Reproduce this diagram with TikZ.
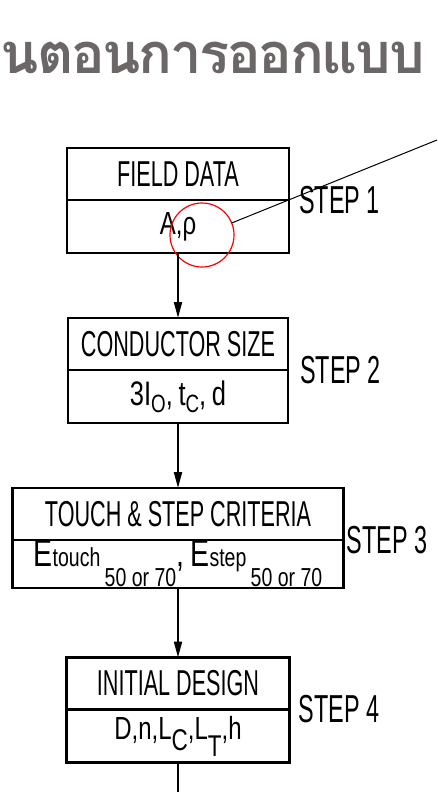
\documentclass[tikz,border=0pt]{standalone}
\usepackage{fontspec}
\newfontfamily\thaifont[Script=Thai, LetterSpace=-4]{Loma}
\newfontfamily\techfont[FakeStretch=0.6]{Liberation Sans}
\newfontfamily\valfont[FakeStretch=0.75]{Liberation Sans}
\usetikzlibrary{arrows.meta, positioning}
\definecolor{titlegray}{HTML}{6B6767}
% lowered smaller text: shift, size, text
\newcommand{\dn}[3]{\raisebox{-#1}{\fontsize{#2}{#2}\selectfont #3}}

\begin{document}
\begin{tikzpicture}[
    x=1pt, y=-1pt,
    >=Stealth,
    head/.style={draw, line width=2.4pt, outer sep=0pt, inner sep=0pt, minimum height=52pt, font=\techfont\fontsize{36pt}{40pt}\selectfont},
    vals/.style={draw, line width=2.4pt, outer sep=0pt, inner sep=0pt, minimum height=53pt, font=\valfont\fontsize{32pt}{34pt}\selectfont},
    steplbl/.style={font=\techfont\fontsize{39pt}{42pt}\selectfont, inner sep=0pt},
    arr/.style={-{Triangle[width=8pt, length=16pt]}, line width=2pt},
    hilite/.style={circle, draw=red, line width=1.2pt, minimum size=64pt, inner sep=0pt, outer sep=0pt}
]
\useasboundingbox (0,0) rectangle (437,792);

% ---------- Title ----------
\node[font=\thaifont\bfseries\fontsize{56pt}{62pt}\selectfont, text=titlegray, anchor=east] (title) at (428,58) {นตอนการออกแบบ};

% ---------- Boxes ----------
\node[head, minimum width=222pt] (fieldhead) at (178,174) {FIELD DATA};
\node[vals, minimum width=222pt, below=0pt of fieldhead] (fieldvals) {A,ρ};

\node[head, minimum width=220pt] (condhead) at (178,344) {CONDUCTOR SIZE};
\node[vals, minimum width=220pt, font=\valfont\fontsize{34pt}{36pt}\selectfont, below=0pt of condhead] (condvals)
    {3I\dn{7pt}{25pt}{O},\,t\dn{7pt}{25pt}{C},\,d};

\node[head, minimum width=331pt] (critHead) at (178,514) {TOUCH \& STEP CRITERIA};
\node[vals, minimum width=331pt, minimum height=48pt, font=\valfont\fontsize{38pt}{40pt}\selectfont, below=0pt of critHead] (critvals)
    {E\dn{0pt}{26pt}{touch}\dn{20pt}{26pt}{\,50 or 70},\,E\dn{0pt}{26pt}{step}\dn{20pt}{26pt}{\,50 or 70}};

\node[head, minimum width=223pt] (designhead) at (178,683.5) {INITIAL DESIGN};
\node[vals, minimum width=223pt, below=0pt of designhead] (designvals)
    {D,n,L\dn{11pt}{30pt}{C},L\dn{17pt}{30pt}{T},h};

% ---------- Step labels ----------
\node[steplbl, right=10pt of fieldhead.south east] (step1) {STEP 1};
\node[steplbl, right=12pt of condhead.south east] (step2) {STEP 2};
\node[steplbl, right=3pt of critHead.south east] (step3) {STEP 3};
\node[steplbl, right=9pt of designhead.south east] (step4) {STEP 4};

% ---------- Highlight ----------
\node[hilite] (rhocirc) at (202,235) {};
\coordinate (lineend) at (437,140);
\draw[line width=1pt] (rhocirc) -- (lineend);

% ---------- Flow ----------
\draw[arr] (fieldvals) -- (condhead);
\draw[arr] (condvals) -- (critHead);
\draw[arr] (critvals) -- (designhead);

\coordinate (flowout) at (178,792);
\draw[line width=2pt] (designvals) -- (flowout);

\end{tikzpicture}
\end{document}
